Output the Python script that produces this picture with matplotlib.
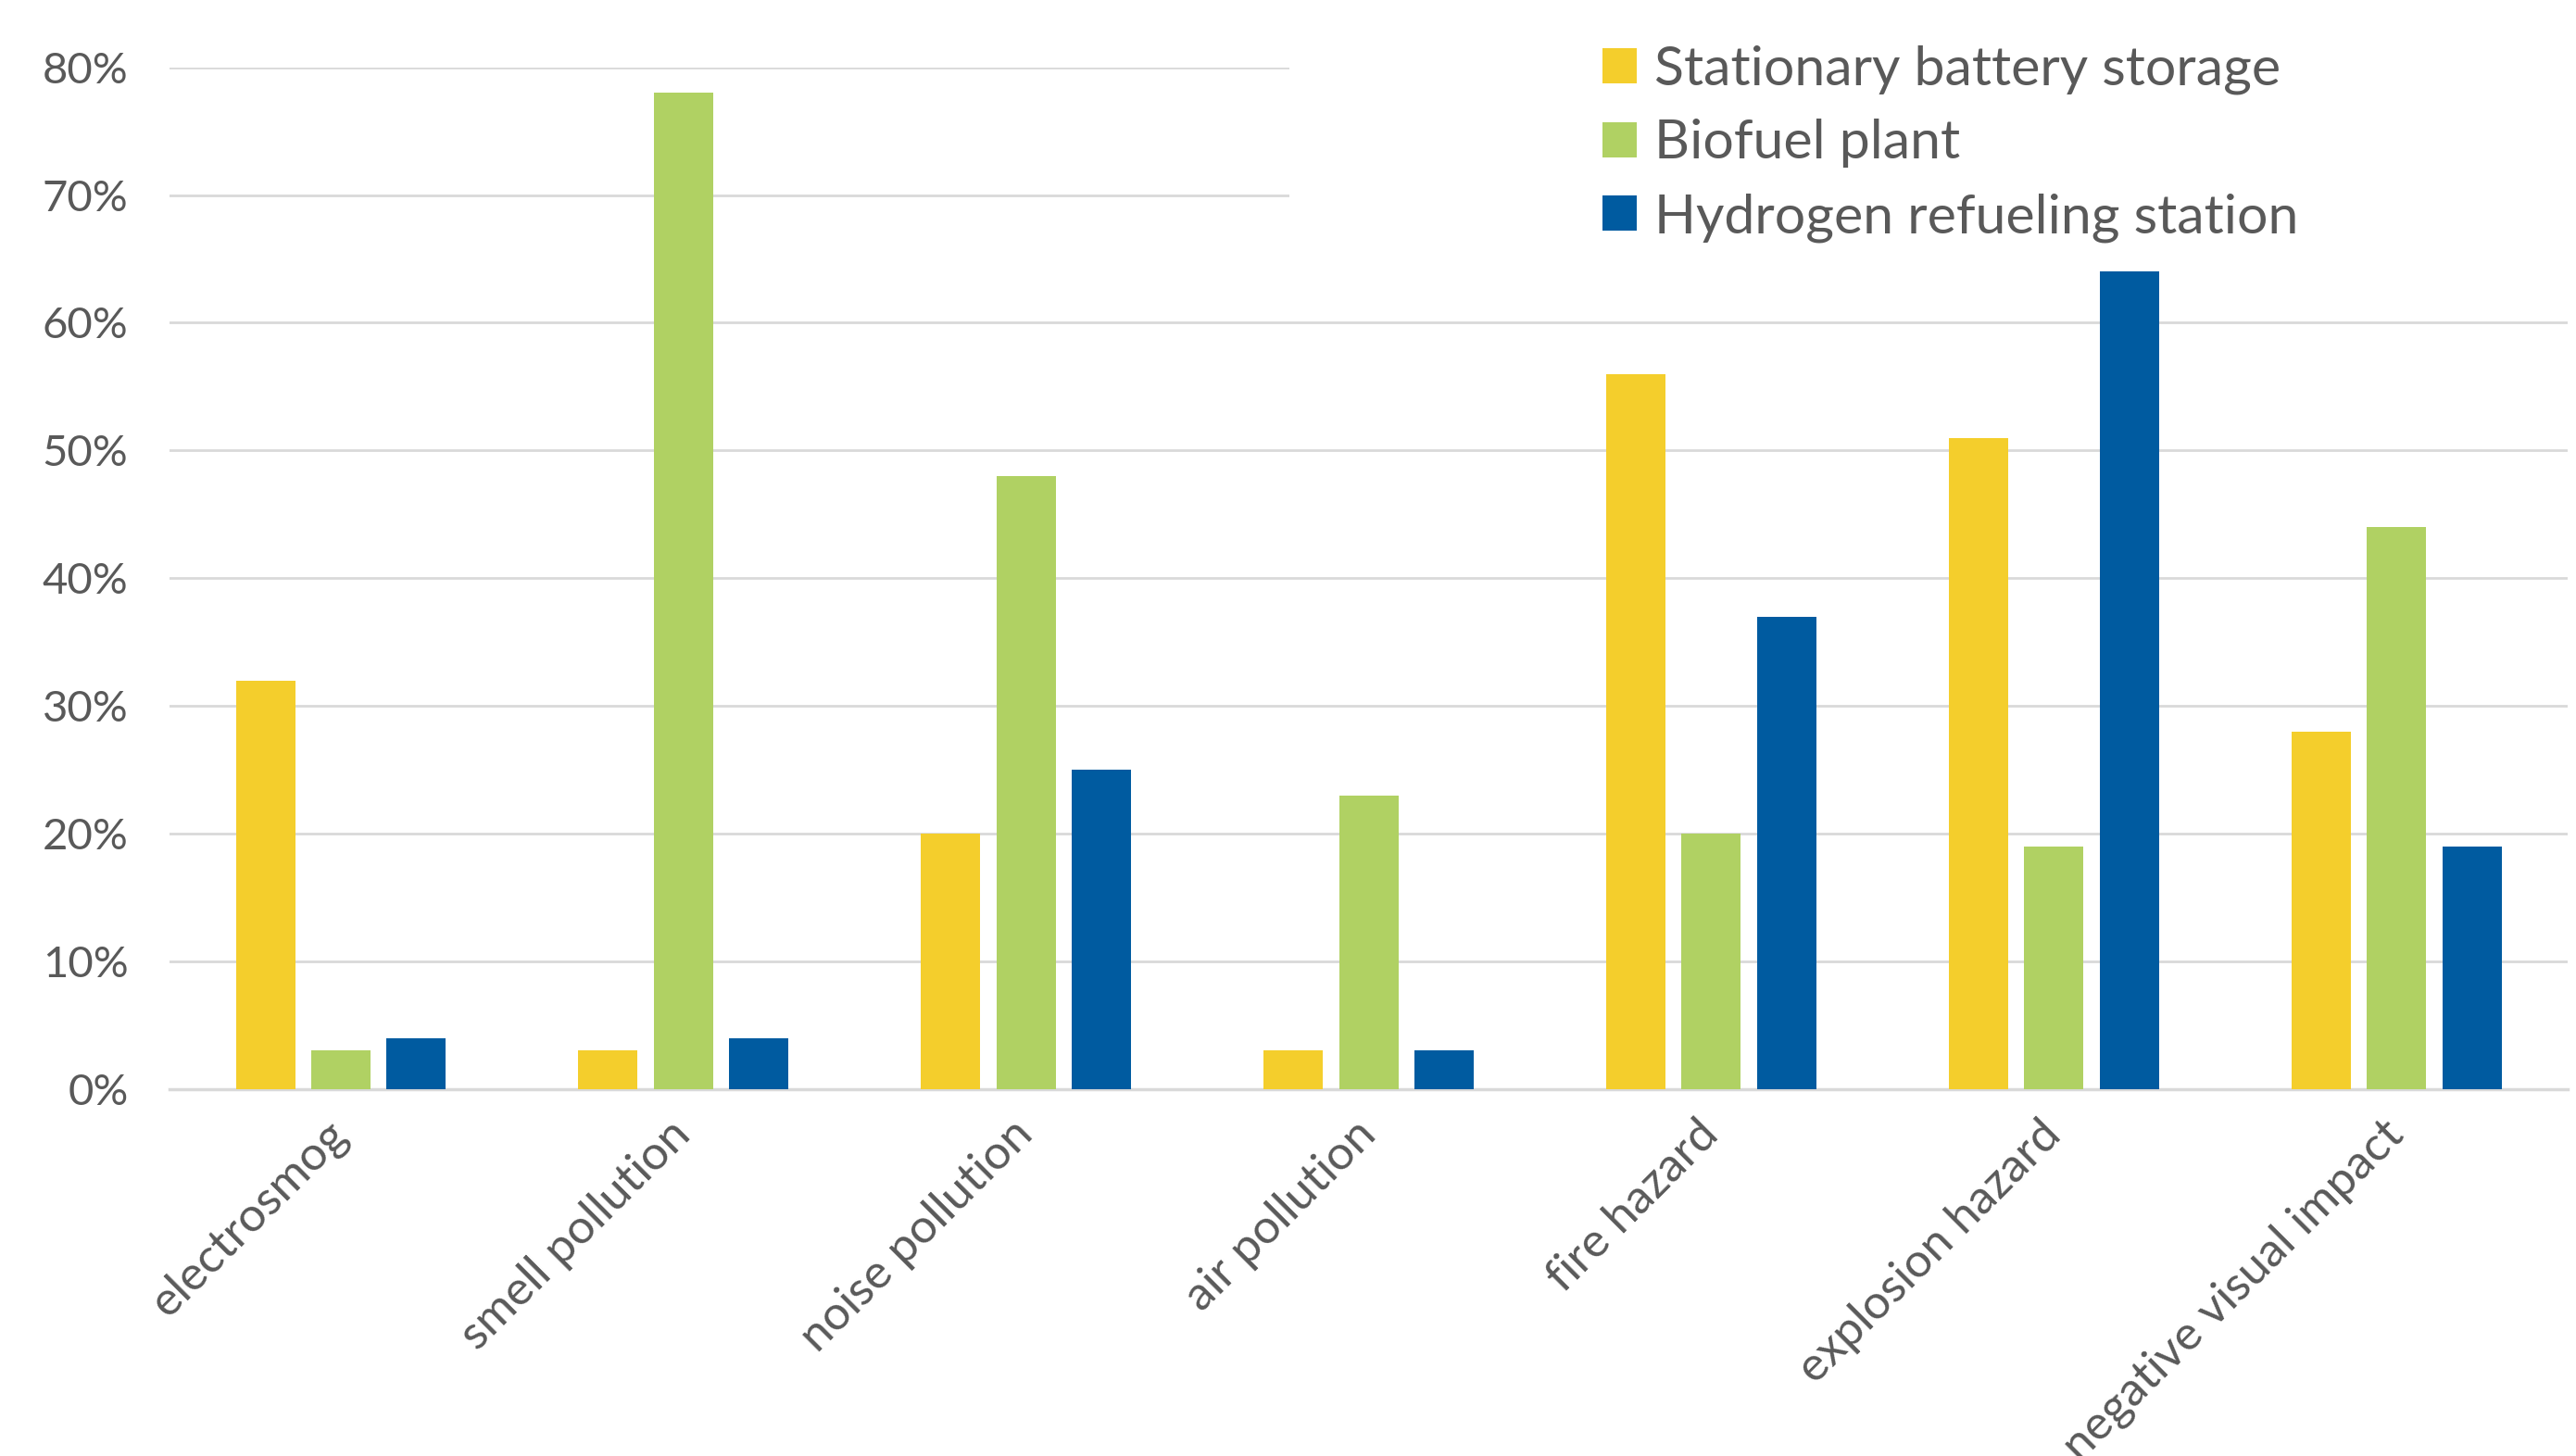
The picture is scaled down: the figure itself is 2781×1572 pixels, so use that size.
import matplotlib.pyplot as plt
import matplotlib.patches as mpatches
import numpy as np

plt.rcParams['font.family'] = ['Lato', 'DejaVu Sans']

# categorias y valores (%)
categorias = ['electrosmog', 'smell pollution', 'noise pollution', 'air pollution',
              'fire hazard', 'explosion hazard', 'negative visual impact']
bateria = [32, 3, 20, 3, 56, 51, 28]
biofuel = [3, 78, 48, 23, 20, 19, 44]
hidrogeno = [4, 4, 25, 3, 37, 64, 19]
series = ['Stationary battery storage', 'Biofuel plant', 'Hydrogen refueling station']
colores = ['#F4CE2C', '#B0D163', '#005BA0']
yticks = [0, 10, 20, 30, 40, 50, 60, 70, 80]

gris = '#595959'
fig = plt.figure(figsize=(27.81, 15.72), dpi=100)
ax = fig.add_axes([0.0658, 0.252, 0.9310, 0.7018])

x = np.arange(len(categorias))
ancho = 0.173
paso = 0.22
for j, (vals, nom, col) in enumerate(zip([bateria, biofuel, hidrogeno], series, colores)):
    ax.bar(x + (j - 1) * paso, np.array(vals) / 100, ancho, color=col, label=nom, zorder=3)

ax.set_xlim(-0.5, len(categorias) - 0.5)
ax.set_ylim(0, 0.8)
ax.set_yticks([v / 100 for v in yticks])
ax.set_yticklabels([f'{v}%' for v in yticks], fontsize=34, color=gris)
ax.set_xticks(x)
ax.set_xticklabels(categorias, rotation=45, ha='right', va='center',
                   rotation_mode='anchor', fontsize=37, color=gris)
ax.tick_params(axis='both', length=0)
ax.tick_params(axis='y', pad=32)
ax.tick_params(axis='x', pad=30)
ax.grid(axis='y', color='#D9D9D9', linewidth=2, zorder=0)
for s in ['top', 'right', 'left']:
    ax.spines[s].set_visible(False)
ax.spines['bottom'].set_color('#D9D9D9')
ax.spines['bottom'].set_linewidth(2.5)

# fondo blanco del area de la leyenda (tapa las grillas)
ax.add_patch(mpatches.Rectangle((0.467, 0.83), 0.54, 0.2, transform=ax.transAxes,
                                facecolor='white', edgecolor='none', zorder=2, clip_on=False))

leg = fig.legend(loc='upper left', bbox_to_anchor=(0.603, 1.003), frameon=False,
                 fontsize=42.5, handlelength=0.62, handleheight=0.62, handletextpad=0.33,
                 labelspacing=0.45, labelcolor=gris)

fig.savefig('out.png', dpi=100)
